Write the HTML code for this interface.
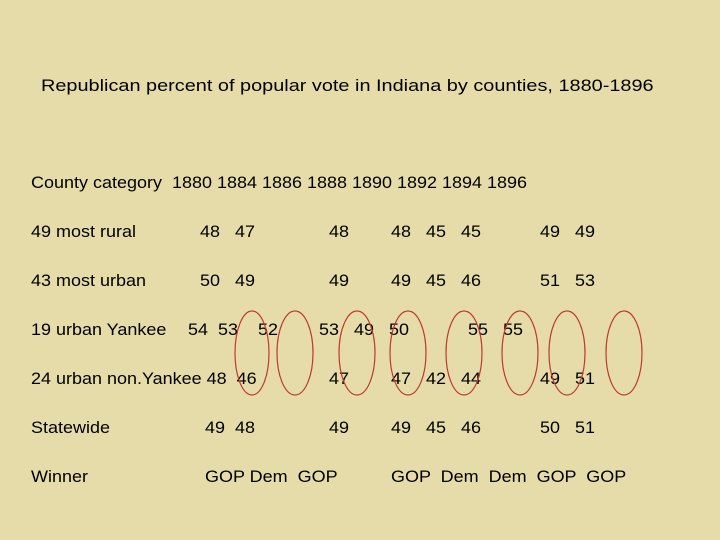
<!DOCTYPE html>
<html><head><meta charset="utf-8"><style>
body{margin:0}
#s{position:relative;width:720px;height:540px;background:#e6dca9;overflow:hidden;font-family:"Liberation Sans",Arial,sans-serif;color:#000;font-size:16.5px}
#s span{position:absolute;white-space:pre;line-height:1;transform:scaleX(1.09);transform-origin:0 0}
#s span.t{transform:scaleX(1.17)}
svg{position:absolute;left:0;top:0}
</style></head><body>
<div id="s">
<span class="t" style="left:41px;top:77px;font-size:17px">Republican percent of popular vote in Indiana by counties, 1880-1896</span>
<span style="left:31px;top:175px">County category  1880 1884 1886 1888 1890 1892 1894 1896</span>
<span style="left:31px;top:224px">49 most rural</span>
<span style="left:200px;top:224px">48   47</span>
<span style="left:329px;top:224px">48</span>
<span style="left:391px;top:224px">48   45   45</span>
<span style="left:540px;top:224px">49   49</span>
<span style="left:31px;top:273px">43 most urban</span>
<span style="left:200px;top:273px">50   49</span>
<span style="left:329px;top:273px">49</span>
<span style="left:391px;top:273px">49   45   46</span>
<span style="left:540px;top:273px">51   53</span>
<span style="left:31px;top:322px">19 urban Yankee</span>
<span style="left:188px;top:322px">54  53    52</span>
<span style="left:319px;top:322px">53   49   50</span>
<span style="left:468px;top:322px">55   55</span>
<span style="left:31px;top:371px">24 urban non.Yankee 48  46</span>
<span style="left:329px;top:371px">47</span>
<span style="left:391px;top:371px">47   42   44</span>
<span style="left:540px;top:371px">49   51</span>
<span style="left:31px;top:420px">Statewide</span>
<span style="left:205px;top:420px">49  48</span>
<span style="left:329px;top:420px">49</span>
<span style="left:391px;top:420px">49   45   46</span>
<span style="left:540px;top:420px">50   51</span>
<span style="left:31px;top:469px">Winner</span>
<span style="left:205px;top:469px">GOP Dem  GOP</span>
<span style="left:391px;top:469px">GOP  Dem  Dem  GOP  GOP</span>
<svg width="720" height="540">
<g fill="none" stroke="#c0392b" stroke-width="1.2">
<ellipse cx="252" cy="353" rx="17" ry="42"/>
<ellipse cx="295" cy="353" rx="18" ry="42"/>
<ellipse cx="357" cy="353" rx="18" ry="42"/>
<ellipse cx="408" cy="353" rx="18" ry="42"/>
<ellipse cx="464" cy="353" rx="18" ry="42"/>
<ellipse cx="520" cy="353" rx="18" ry="42"/>
<ellipse cx="567" cy="353" rx="18" ry="42"/>
<ellipse cx="624" cy="353" rx="18" ry="42"/>
</g></svg>
</div>
</body></html>
